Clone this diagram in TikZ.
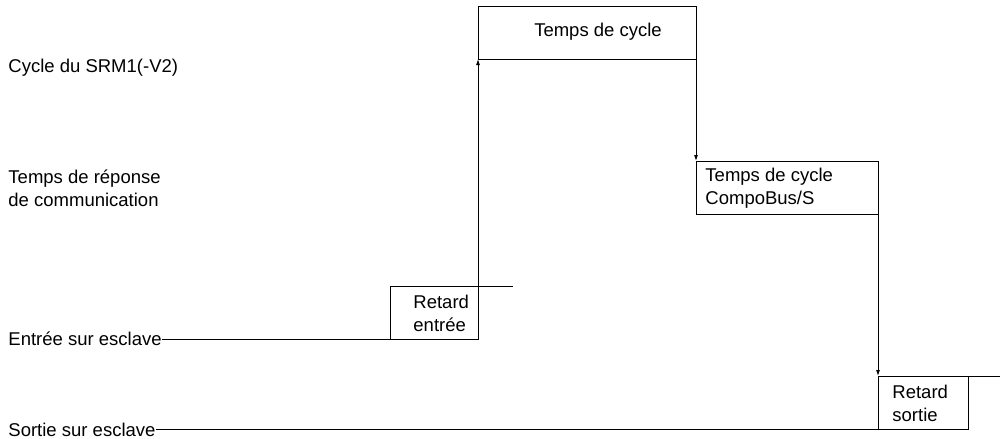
\documentclass[tikz,border=0pt]{standalone}
\usepackage{fontspec}
\setmainfont{Liberation Sans}
\usetikzlibrary{arrows.meta}
\begin{document}
\begin{tikzpicture}[x=1pt,y=-1pt,line width=0.9pt,
  lbl/.style={anchor=west,inner sep=0pt,font=\fontsize{18.5}{23}\selectfont,align=left},
  arr/.style={-{Latex[length=6pt,width=4pt]}}]
\useasboundingbox (0,0) rectangle (1007,439);
\node[lbl] (l1) at (8,68) {Cycle du SRM1(-V2)};
\node[lbl] (l2) at (8,188) {Temps de réponse\\de communication};
\node[lbl,anchor=base west] (l3) at (8,345) {Entrée sur esclave};
\node[lbl,anchor=base west] (l4) at (8,436) {Sortie sur esclave};
% boxes
\draw (390,339) rectangle (478,286);
\draw (478,6) rectangle (696,59);
\draw (696,161) rectangle (878,214);
\draw (878,376) rectangle (968,429);
\coordinate (e1) at (478,286); \coordinate (e2) at (513,286);
\coordinate (s1) at (968,376); \coordinate (s2) at (1000,376);
\coordinate (b1) at (390,339); \coordinate (b2) at (878,429);
\draw (e1) -- (e2);
\draw (s1) -- (s2);
\draw (l3.base east |- b1) -- (b1);
\draw (l4.base east |- b2) -- (b2);
\node[lbl,anchor=center] (t1) at (598,32) {Temps de cycle};
\node[lbl] (t2) at (705,188) {Temps de cycle\\CompoBus/S};
\node[lbl] (t3) at (413,313) {Retard\\entrée};
\node[lbl] (t4) at (892,403) {Retard\\sortie};
\draw[arr] (478,339) -- (478,59);
\draw[arr] (696,59) -- (696,161);
\draw[arr] (878,214) -- (878,376);
\end{tikzpicture}
\end{document}
